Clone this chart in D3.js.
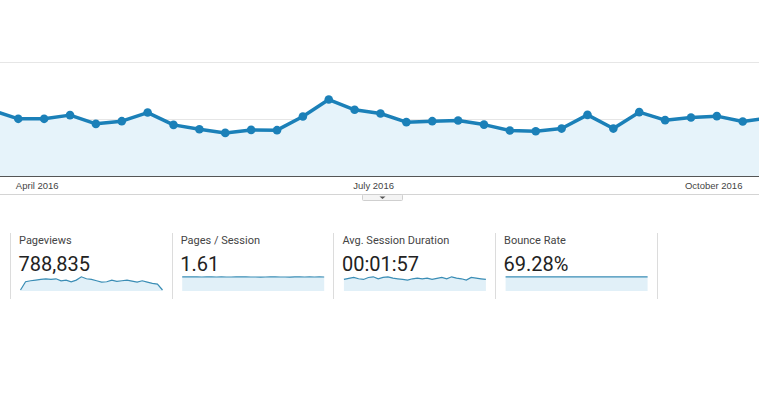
<!DOCTYPE html>
<html>
<head>
<meta charset="utf-8">
<script src="https://cdn.jsdelivr.net/npm/d3@7"></script>
<style>
  html, body { margin: 0; padding: 0; background: #fff; }
  svg { display: block; }
  .axis text { font-family: "Liberation Sans", Arial, sans-serif; font-size: 9.5px; fill: #444; }
  .card-title { font-family: Roboto, "Noto Sans", sans-serif; font-size: 11px; fill: #444; }
  .card-value { font-family: Roboto, "Noto Sans", sans-serif; font-size: 20px; fill: #222; }
</style>
</head>
<body>
<div id="chart"></div>
<script>
// weekly sessions (weeks start on Sunday)
const weeks = ['2016-03-20', '2016-03-27', '2016-04-03', '2016-04-10', '2016-04-17', '2016-04-24',
  '2016-05-01', '2016-05-08', '2016-05-15', '2016-05-22', '2016-05-29', '2016-06-05', '2016-06-12',
  '2016-06-19', '2016-06-26', '2016-07-03', '2016-07-10', '2016-07-17', '2016-07-24', '2016-07-31',
  '2016-08-07', '2016-08-14', '2016-08-21', '2016-08-28', '2016-09-04', '2016-09-11', '2016-09-18',
  '2016-09-25', '2016-10-02', '2016-10-09', '2016-10-16'];
const sessions = [11520, 10030, 10030, 10680, 9150, 9620, 11130, 8970, 8210, 7560, 8090, 8040, 10430,
  13420, 11610, 10960, 9450, 9620, 9730, 9020, 7970, 7860, 8320, 10730, 8320, 11200, 9800, 10260,
  10500, 9550, 10220];
const monthTicks = ['2016-04-01', '2016-07-01', '2016-10-01'];
const gridValues = [10000, 20000];

// scorecards
const metricNames = ['Pageviews', 'Pages / Session', 'Avg. Session Duration', 'Bounce Rate'];
const metricValues = ['788,835', '1.61', '00:01:57', '69.28%'];
const pageviewsSpark = [300, 2800, 3100, 3300, 3500, 3700, 3500, 3700, 3100, 3300, 2800, 3300, 4300,
  3700, 3500, 3100, 2700, 2800, 3300, 2900, 3100, 3300, 3000, 2700, 3100, 2700, 2300, 2100, 300];
const pagesSpark = [1.62, 1.61, 1.62, 1.61, 1.60, 1.61, 1.61, 1.60, 1.61, 1.60, 1.60, 1.61, 1.62, 1.61,
  1.60, 1.60, 1.59, 1.60, 1.61, 1.61, 1.60, 1.60, 1.59, 1.61, 1.61, 1.60, 1.61, 1.60, 1.61, 1.60];
const durationSpark = [105, 114, 123, 111, 105, 123, 129, 111, 123, 129, 117, 111, 105, 99, 111, 117,
  111, 117, 105, 114, 123, 111, 129, 117, 111, 99, 123, 117, 111, 105];
const bounceSpark = [69.2, 69.3, 69.3, 69.1, 69.0, 69.2, 69.3, 69.4, 69.3, 69.2, 69.1, 69.2, 69.3, 69.3,
  69.4, 69.3, 69.2, 69.2, 69.1, 69.2, 69.3, 69.4, 69.4, 69.3, 69.2, 69.3, 69.4, 69.3, 69.2, 69.2];

const width = 759, height = 398;
const parse = d3.timeParse('%Y-%m-%d');
const lineColor = '#1b80b8';

const svg = d3.select('#chart').append('svg')
  .attr('width', width)
  .attr('height', height);

svg.append('rect').attr('width', width).attr('height', height).attr('fill', '#fff');

// main chart
const dates = weeks.map(parse);
const x = d3.scaleTime()
  .domain([dates[0], dates[dates.length - 1]])
  .range([-7.6, 768.6]);
const y = d3.scaleLinear()
  .domain([0, 20000])
  .range([176, 62]);

svg.selectAll('.grid')
  .data(gridValues)
  .join('line')
  .attr('x1', 0).attr('x2', width)
  .attr('y1', d => Math.round(y(d)) + 0.5)
  .attr('y2', d => Math.round(y(d)) + 0.5)
  .attr('stroke', '#e6e6e6');

const area = d3.area()
  .x((d, i) => x(dates[i]))
  .y0(y(0))
  .y1(d => y(d));

const line = d3.line()
  .x((d, i) => x(dates[i]))
  .y(d => y(d));

svg.append('path')
  .datum(sessions)
  .attr('d', area)
  .attr('fill', '#e6f3fa');

svg.append('path')
  .datum(sessions)
  .attr('d', line)
  .attr('fill', 'none')
  .attr('stroke', lineColor)
  .attr('stroke-width', 3.5)
  .attr('stroke-linejoin', 'round');

svg.selectAll('.dot')
  .data(sessions)
  .join('circle')
  .attr('cx', (d, i) => x(dates[i]))
  .attr('cy', d => y(d))
  .attr('r', 4.3)
  .attr('fill', lineColor);

// baseline + month labels
svg.append('line')
  .attr('x1', 0).attr('x2', width)
  .attr('y1', 176.5).attr('y2', 176.5)
  .attr('stroke', '#555');

const xAxis = d3.axisBottom(x)
  .tickValues(monthTicks.map(parse))
  .tickSize(0)
  .tickPadding(0)
  .tickFormat(d3.timeFormat('%B %Y'));

svg.append('g')
  .attr('class', 'axis')
  .attr('transform', 'translate(0,' + y(0) + ')')
  .call(xAxis)
  .call(g => g.select('.domain').remove())
  .selectAll('text')
  .attr('dy', '12.5px');

// bottom rule and collapse button
svg.append('line')
  .attr('x1', 0).attr('x2', width)
  .attr('y1', 194.5).attr('y2', 194.5)
  .attr('stroke', '#d4d4d4');

svg.append('rect')
  .attr('x', 362.5).attr('y', 194.5)
  .attr('width', 40).attr('height', 6)
  .attr('rx', 1)
  .attr('fill', '#f4f4f4')
  .attr('stroke', '#cfcfcf');

svg.append('path')
  .attr('d', 'M379.5,196.5 L385.5,196.5 L382.5,199 Z')
  .attr('fill', '#555');

// scorecards
const sparks = [pageviewsSpark, pagesSpark, durationSpark, bounceSpark];
const cardX = d3.scaleLinear().domain([0, 1]).range([10, 171.7]);

const cards = svg.selectAll('.card')
  .data(metricNames)
  .join('g')
  .attr('class', 'card')
  .attr('transform', (d, i) => 'translate(' + cardX(i) + ',0)');

svg.selectAll('.sep')
  .data(d3.range(metricNames.length + 1))
  .join('line')
  .attr('x1', i => Math.round(cardX(i)) + 0.5)
  .attr('x2', i => Math.round(cardX(i)) + 0.5)
  .attr('y1', 233).attr('y2', 299)
  .attr('stroke', '#dcdcdc');

cards.append('text')
  .attr('class', 'card-title')
  .attr('x', 9).attr('y', 244)
  .text(d => d);

cards.append('text')
  .attr('class', 'card-value')
  .attr('x', 8.5).attr('y', 270.5)
  .text((d, i) => metricValues[i]);

cards.each(function (d, i) {
  const vals = sparks[i];
  const sx = d3.scaleLinear().domain([0, vals.length - 1]).range([10.5, 152.5]);
  const sy = d3.scaleLinear().domain([0, d3.max(vals)]).range([291, 276.8]);
  const g = d3.select(this);
  g.append('path')
    .datum(vals)
    .attr('d', d3.area().x((v, j) => sx(j)).y0(291).y1(v => sy(v)))
    .attr('fill', '#e1f0f8');
  g.append('path')
    .datum(vals)
    .attr('d', d3.line().x((v, j) => sx(j)).y(v => sy(v)))
    .attr('fill', 'none')
    .attr('stroke', '#3a8db5')
    .attr('stroke-width', 1.2);
});
</script>
</body>
</html>
